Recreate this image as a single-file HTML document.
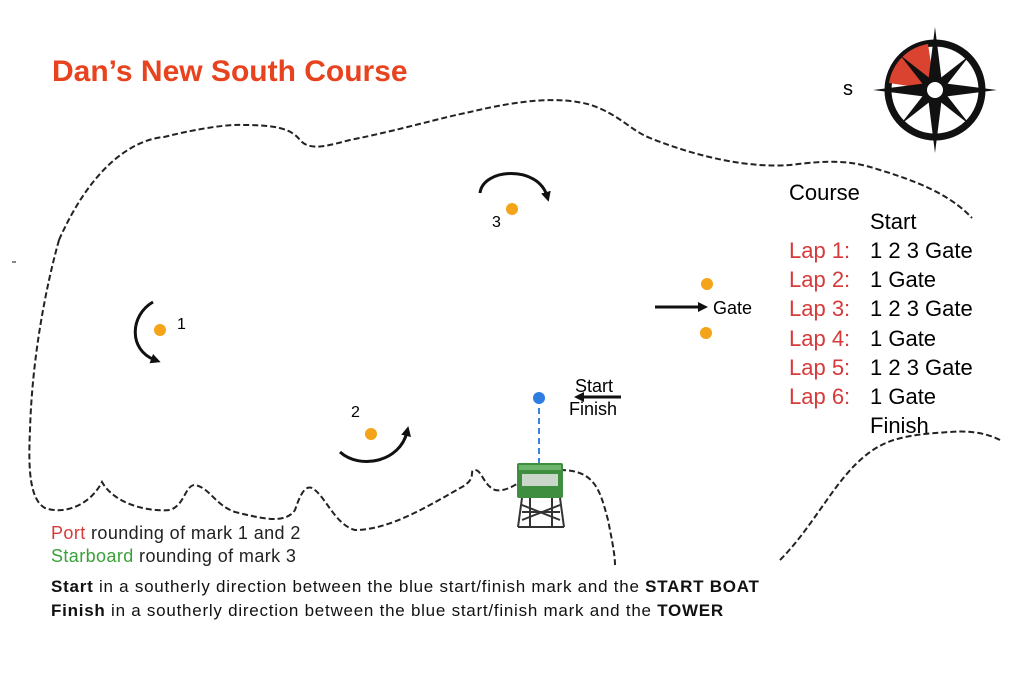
<!DOCTYPE html>
<html><head><meta charset="utf-8"><style>
html,body{margin:0;padding:0;background:#fff;}
body{width:1024px;height:680px;overflow:hidden;position:relative;font-family:"Liberation Sans",Arial,sans-serif;}
.t{position:absolute;white-space:nowrap;}
.r{color:#d63a3a}
</style></head><body>
<svg width="1024" height="680" style="position:absolute;left:0;top:0" xmlns="http://www.w3.org/2000/svg">
<defs>
<marker id="ah" markerWidth="10" markerHeight="10" refX="4" refY="5" orient="auto" markerUnits="userSpaceOnUse"><path d="M0,0 L10,5 L0,10 z" fill="#111"/></marker>
</defs>
<g fill="none" stroke="#222" stroke-width="2" stroke-dasharray="6,3">
<path d="M59,240 C90,170 130,140 164,137 C200,128 230,124 243,125 C280,125 292,130 300,140 C310,152 330,145 350,140 C400,130 440,118 470,112 C520,100 560,96 591,105 C620,115 630,130 650,138 C700,158 750,168 790,165 C830,160 850,160 880,170 C930,185 955,200 972,218"/>
<path d="M59,240 C45,290 32,360 30,430 C28,470 30,500 45,508 C65,515 90,505 102,482 C115,505 150,512 170,510 C185,505 185,485 195,485 C210,488 215,505 235,512 C260,518 285,525 295,510 C300,495 305,485 312,488 C325,495 335,525 355,530 C390,530 430,505 462,487 C478,478 468,470 475,470 C482,470 483,485 495,490 C505,492 515,485 520,482"/>
<path d="M560,470 C595,470 600,490 608,520 C612,540 615,555 615,565"/>
<path d="M780,560 C810,530 830,490 855,465 C880,440 900,435 950,432 C975,430 990,435 1000,440"/>
</g>
<path d="M12,262 L16,262" stroke="#888" stroke-width="2"/>
<g fill="#f4a418">
<circle cx="160" cy="330" r="6"/><circle cx="512" cy="209" r="6"/><circle cx="371" cy="434" r="6"/>
<circle cx="707" cy="284" r="6"/><circle cx="706" cy="333" r="6"/>
</g>
<g fill="none" stroke="#111" stroke-width="3">
<path d="M153,302 C130,315 128,350 155,360" marker-end="url(#ah)"/>
<path d="M480,193 C483,168 538,165 547,196" marker-end="url(#ah)"/>
<path d="M340,452 C360,470 400,462 407,432" marker-end="url(#ah)"/>
<path d="M655,307 L702,307" marker-end="url(#ah)"/>
<path d="M621,397 L580,397" marker-end="url(#ah)"/>
</g>
<line x1="539" y1="398" x2="539" y2="463" stroke="#3b82d8" stroke-width="2" stroke-dasharray="6,4"/>
<circle cx="539" cy="398" r="6" fill="#2f7de0"/>
<rect x="517" y="463" width="46" height="35" fill="#3f8e3f" rx="2"/>
<rect x="519" y="465" width="42" height="5" fill="#6db56d"/>
<rect x="522" y="474" width="36" height="12" fill="#c9d6c9"/>
<g stroke="#333" stroke-width="2" fill="none">
<path d="M522,498 L518,527 M560,498 L564,527 M530,498 L530,527 M552,498 L552,527 M522,505 L560,520 M560,505 L522,520 M518,527 L564,527 M522,512 L560,512"/>
</g>
<g transform="translate(935,90)">
<circle r="47" fill="#fff" stroke="#111" stroke-width="7"/>
<path d="M0,0 L-46,-7 A47,47 0 0 1 -7,-46 Z" fill="#d94330"/>
<g fill="#111">
<polygon points="0,-63 7,-7 0,0 -7,-7"/><polygon points="0,63 7,7 0,0 -7,7"/>
<polygon points="-62,0 -7,-7 0,0 -7,7"/><polygon points="62,0 7,-7 0,0 7,7"/>
<polygon points="-35,-35 -3,-10 0,0 -10,-3"/><polygon points="35,-35 3,-10 0,0 10,-3"/>
<polygon points="-35,35 -3,10 0,0 -10,3"/><polygon points="35,35 3,10 0,0 10,3"/>
</g>
<circle r="8" fill="#fff"/>
</g>
</svg>
<div class="t" style="left:52px;top:55px;font-size:30px;font-weight:bold;color:#e8431f;">Dan’s New South Course</div>
<div class="t" style="left:843px;top:78px;font-size:20px;">s</div>
<div class="t" style="left:177px;top:316px;font-size:16px;">1</div>
<div class="t" style="left:492px;top:214px;font-size:16px;">3</div>
<div class="t" style="left:351px;top:404px;font-size:16px;">2</div>
<div class="t" style="left:713px;top:298px;font-size:18px;">Gate</div>
<div class="t" style="left:575px;top:376px;font-size:18px;">Start</div>
<div class="t" style="left:569px;top:399px;font-size:18px;">Finish</div>
<div class="t" style="left:789px;top:178px;font-size:22px;line-height:29.2px;">Course</div>
<div class="t" style="left:870px;top:207px;font-size:22px;line-height:29.2px;">Start</div>
<div class="t" style="left:789px;top:236px;font-size:22px;line-height:29.2px;"><span class="r">Lap 1:</span><br><span class="r">Lap 2:</span><br><span class="r">Lap 3:</span><br><span class="r">Lap 4:</span><br><span class="r">Lap 5:</span><br><span class="r">Lap 6:</span></div>
<div class="t" style="left:870px;top:236px;font-size:22px;line-height:29.2px;">1 2 3 Gate<br>1 Gate<br>1 2 3 Gate<br>1 Gate<br>1 2 3 Gate<br>1 Gate<br>Finish</div>
<div class="t" style="left:51px;top:522px;font-size:18px;line-height:23px;color:#222;letter-spacing:0.4px;"><span class="r">Port</span> rounding of mark 1 and 2<br><span style="color:#3aa03a">Starboard</span> rounding of mark 3</div>
<div class="t" style="left:51px;top:575px;font-size:17px;line-height:24px;color:#111;letter-spacing:0.75px;"><b>Start</b> in a southerly direction between the blue start/finish mark and the <b>START BOAT</b><br><b>Finish</b> in a southerly direction between the blue start/finish mark and the <b>TOWER</b></div>
</body></html>
